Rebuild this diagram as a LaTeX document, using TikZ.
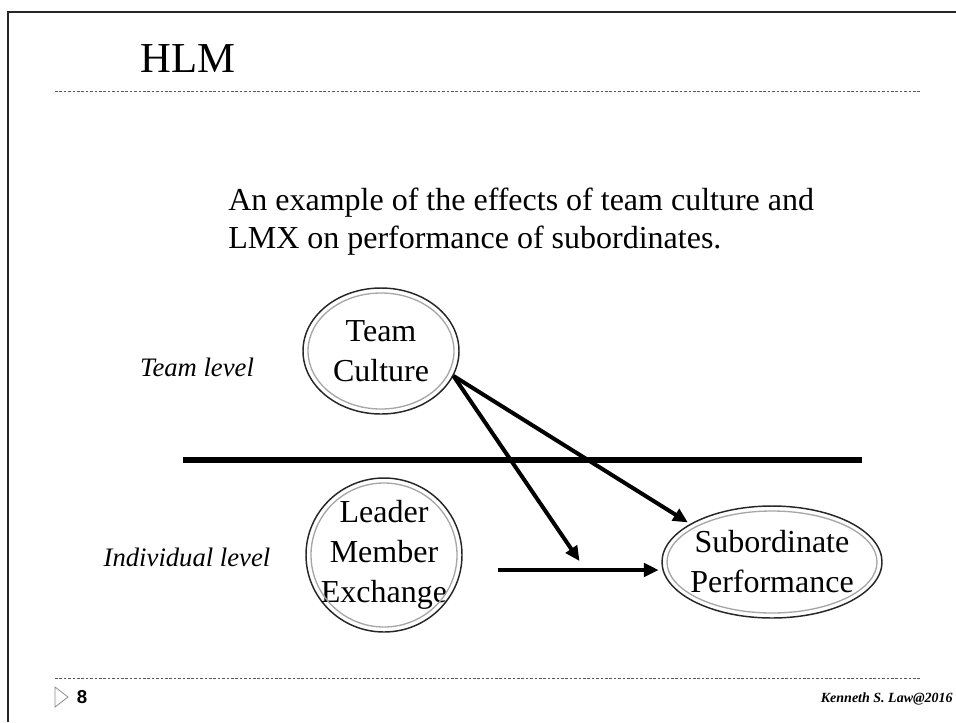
\documentclass[tikz,border=0pt]{standalone}
\usepackage{fontspec}
\setmainfont{Liberation Serif}
\newfontfamily\footerfont{Liberation Sans}
\usetikzlibrary{arrows.meta, positioning, calc, shapes.geometric}

\tikzset{
  construct/.style={ellipse, draw=black!85, line width=1.1pt, align=center, inner sep=-14pt,
    font=\fontsize{24}{30}\selectfont},
  ring/.style={draw=black!35, line width=1pt},
  level/.style={font=\fontsize{20}{24}\selectfont\itshape, inner sep=0pt},
  arrow/.style={-{Triangle[length=11pt, width=10pt]}, line width=3pt},
  divider/.style={line width=4.5pt},
  rule/.style={draw=black!65, line width=0.75pt, dash pattern=on 2pt off 1.3pt},
  frame/.style={draw=black!85, line width=2pt},
  every node/.style={inner sep=0pt}
}

\begin{document}
\begin{tikzpicture}[x=0.75pt, y=-0.75pt]
    \useasboundingbox (0,0) rectangle (956,722);

    % slide frame and rules
    \draw[frame] (8,722) -- (8,12) -- (956,12);
    \draw[rule] (55,91) -- (920,91);
    \draw[rule] (55,678) -- (920,678);

    \node[anchor=base west, font=\fontsize{32}{36}\selectfont] (title) at (140,72) {HLM};
    \node[anchor=west, align=left, font=\fontsize{24}{28.5}\selectfont] (intro) at (228,222)
      {An example of the effects of team culture and\\LMX on performance of subordinates.};

    % constructs
    \node[construct, minimum width=117pt, minimum height=94.5pt] (tc) at (381,351) {Team\\Culture};
    \node[construct, minimum width=117pt, minimum height=115.5pt] (lmx) at (384,555) {Leader\\Member\\Exchange};
    \node[construct, minimum width=165pt, minimum height=84pt] (sp) at (772,562) {Subordinate\\Performance};
    \foreach \n/\rx/\ry in {tc/73/58, lmx/73/72, sp/105/51}
      \draw[ring] (\n.center) ellipse [x radius=\rx, y radius=\ry];

    \node[level] (team) at (197,367) {Team level};
    \node[level] (indiv) at (187,557) {Individual level};

    % level boundary
    \coordinate (divl) at (183,460);
    \coordinate (divr) at (862,460);
    \draw[divider] (divl) -- (divr);

    \coordinate (lmxout) at ($(lmx.east)+(35,15)$);
    \coordinate (spin) at (lmxout -| sp.west);
    \coordinate (mod) at ($(lmxout)!0.5!(spin)+(0,-9)$);

    \draw[arrow, shorten >=2pt] (tc.-19) -- (sp.155);
    \draw[arrow] (tc.-19) -- (mod);
    \draw[arrow, shorten >=2pt] (lmxout) -- (spin);

    % footer
    \draw[black!45, line width=0.6pt] (55,687) -- (68,697) -- (55,707) -- cycle;
    \node[font=\footerfont\bfseries\fontsize{14}{16}\selectfont] (page) at (82,697) {8};
    \node[anchor=east, font=\bfseries\itshape\fontsize{10.5}{12}\selectfont] (credit) at (953,699)
      {Kenneth S. Law@2016};
\end{tikzpicture}
\end{document}
